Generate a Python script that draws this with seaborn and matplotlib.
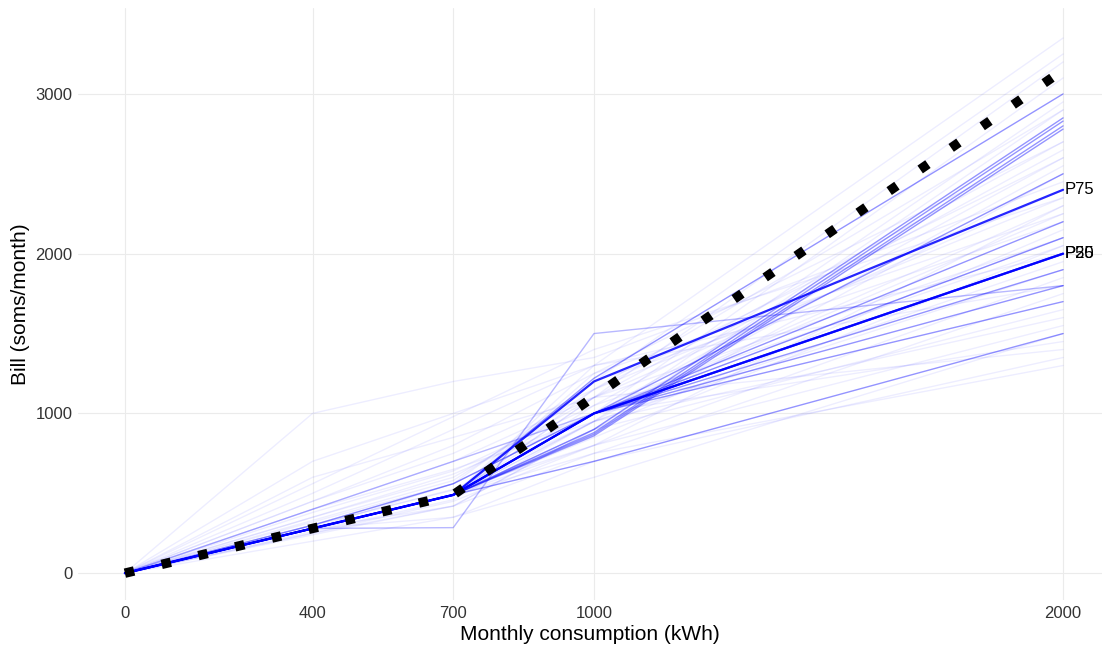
import pandas as pd
import matplotlib.pyplot as plt
import seaborn as sns

# consumption levels where every tariff is evaluated
kwh = [0, 400, 700, 1000, 2000]

# percentile tariffs (bill at each consumption level)
pct_names = ['P25', 'P50', 'P75']
pct_bills = [
    [0, 280, 490, 1000, 2000],
    [0, 280, 490, 1000, 2000],
    [0, 280, 490, 1200, 2400],
]

# tariffs that show up clearly
medium_bills = [
    [0, 280, 490, 1220, 3000],
    [0, 280, 490, 900, 2850],
    [0, 280, 490, 880, 2830],
    [0, 280, 490, 870, 2800],
    [0, 280, 490, 860, 2780],
    [0, 280, 490, 1000, 2500],
    [0, 280, 490, 1000, 2200],
    [0, 280, 490, 700, 1500],
    [0, 280, 490, 1000, 1700],
    [0, 280, 490, 1000, 1900],
    [0, 280, 490, 1000, 1800],
    [0, 300, 560, 1000, 2100],
]

# tariffs that are only half visible
dim_bills = [
    [0, 400, 700, 1000, 2000],
    [0, 280, 285, 1500, 1800],
]

# the many faint tariffs
faint_bills = [
    [0, 280, 490, 1300, 3350],
    [0, 280, 560, 1200, 3250],
    [0, 350, 600, 1100, 3200],
    [0, 280, 490, 1000, 3100],
    [0, 300, 525, 950, 2950],
    [0, 280, 490, 900, 2900],
    [0, 400, 700, 1100, 2700],
    [0, 280, 490, 1050, 2650],
    [0, 320, 560, 1000, 2600],
    [0, 280, 490, 950, 2550],
    [0, 1000, 1200, 1350, 2450],
    [0, 560, 980, 1400, 2350],
    [0, 280, 490, 800, 2300],
    [0, 450, 800, 1250, 2250],
    [0, 280, 490, 900, 2150],
    [0, 350, 620, 1000, 2100],
    [0, 280, 490, 850, 2050],
    [0, 700, 1000, 1300, 2000],
    [0, 280, 490, 950, 1950],
    [0, 300, 520, 800, 1850],
    [0, 500, 900, 1300, 1800],
    [0, 280, 490, 750, 1750],
    [0, 280, 420, 900, 1650],
    [0, 400, 650, 950, 1600],
    [0, 250, 450, 800, 1550],
    [0, 280, 490, 1000, 1450],
    [0, 600, 850, 1100, 1400],
    [0, 280, 350, 700, 1350],
    [0, 250, 420, 750, 1300],
    [0, 280, 490, 1100, 2400],
    [0, 300, 560, 1000, 2300],
    [0, 280, 490, 1200, 2200],
    [0, 280, 490, 1000, 2000],
    [0, 280, 490, 1000, 2000],
    [0, 200, 350, 600, 1500],
    [0, 240, 420, 900, 2500],
    [0, 280, 490, 1250, 2700],
    [0, 450, 750, 1150, 2600],
    [0, 330, 580, 1150, 2350],
    [0, 280, 490, 1100, 2100],
    [0, 260, 460, 950, 1900],
    [0, 280, 490, 1000, 2250],
    [0, 380, 640, 1050, 2050],
    [0, 280, 490, 1150, 2900],
]

# reference tariff (black dotted)
ref_kwh = [0, 700, 1000, 2000]
ref_bill = [0, 490, 1105, 3150]


def to_long(rows, tag):
    df = pd.DataFrame(rows, columns=kwh)
    df['line'] = [f'{tag}{i}' for i in range(len(rows))]
    return df.melt(id_vars='line', var_name='kwh', value_name='bill')


faint = to_long(faint_bills, 'f')
dim = to_long(dim_bills, 'd')
medium = to_long(medium_bills, 'm')
pct = to_long(pct_bills, 'p')

sns.set_theme(style='whitegrid')
plt.rcParams['font.family'] = ['Liberation Sans', 'DejaVu Sans']

fig = plt.figure(figsize=(11.02, 6.5), dpi=100)
ax = fig.add_axes([78 / 1102, 50 / 650, 1024 / 1102, 592 / 650])

sns.lineplot(data=faint, x='kwh', y='bill', units='line', estimator=None,
             color='blue', alpha=0.07, lw=1.0, ax=ax)
sns.lineplot(data=dim, x='kwh', y='bill', units='line', estimator=None,
             color='blue', alpha=0.28, lw=1.0, ax=ax)
sns.lineplot(data=medium, x='kwh', y='bill', units='line', estimator=None,
             color='blue', alpha=0.42, lw=1.0, ax=ax)
sns.lineplot(data=pct, x='kwh', y='bill', units='line', estimator=None,
             color='blue', alpha=0.85, lw=1.6, ax=ax)

sns.lineplot(x=ref_kwh, y=ref_bill, color='black', lw=6.8,
             linestyle=(0, (1, 3)), dash_capstyle='butt', ax=ax)

# percentile labels at the right end
for name, row in zip(pct_names, pct_bills):
    ax.text(kwh[-1] + 3, row[-1], name, ha='left', va='center',
            fontsize=12, color='black')

ax.set_xlim(-100, 2083)
ax.set_ylim(-168, 3538)
ax.set_xticks(kwh)
ax.set_yticks([0, 1000, 2000, 3000])
ax.tick_params(length=0, labelsize=12, colors='#333333', pad=4)
ax.grid(color='#EBEBEB', lw=0.8)
for s in ax.spines.values():
    s.set_visible(False)

ax.set_xlabel('Monthly consumption (kWh)', fontsize=15, color='black', labelpad=3)
ax.set_ylabel('Bill (soms/month)', fontsize=15, color='black', labelpad=4)

fig.savefig('out.png', dpi=100)
